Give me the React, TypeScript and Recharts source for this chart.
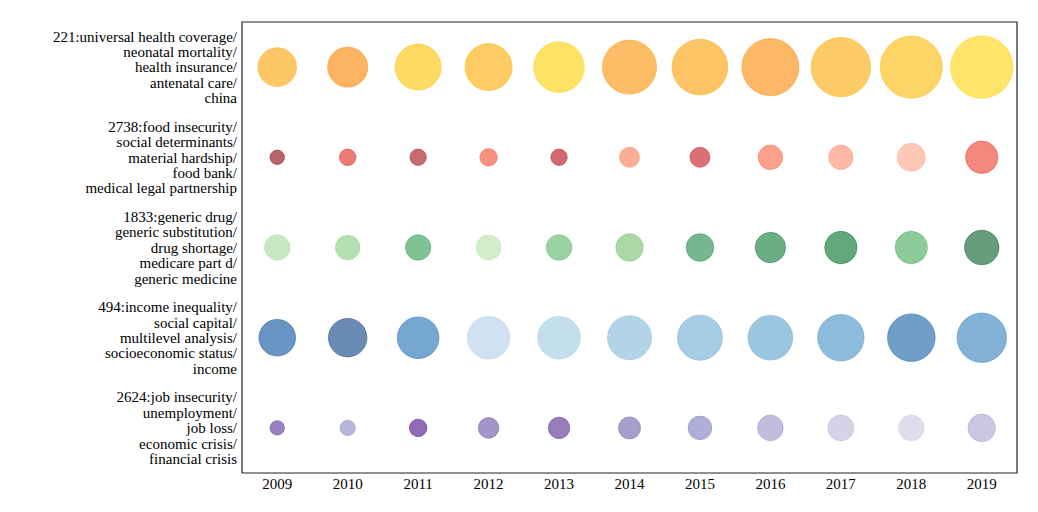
import { ScatterChart, Scatter, XAxis, YAxis, ZAxis, Cell, ReferenceArea } from 'recharts';

const years = [2009, 2010, 2011, 2012, 2013, 2014, 2015, 2016, 2017, 2018, 2019];

const topicLabels = [
  ['221:universal health coverage/', 'neonatal mortality/', 'health insurance/', 'antenatal care/', 'china'],
  ['2738:food insecurity/', 'social determinants/', 'material hardship/', 'food bank/', 'medical legal partnership'],
  ['1833:generic drug/', 'generic substitution/', 'drug shortage/', 'medicare part d/', 'generic medicine'],
  ['494:income inequality/', 'social capital/', 'multilevel analysis/', 'socioeconomic status/', 'income'],
  ['2624:job insecurity/', 'unemployment/', 'job loss/', 'economic crisis/', 'financial crisis'],
];

// bubble sizes (area units) per topic, one per year
const sizes221 = [372, 400, 529, 552, 640, 729, 773, 812, 882, 961, 973];
const sizes2738 = [52, 69, 67, 76, 67, 100, 100, 149, 149, 196, 262];
const sizes1833 = [161, 149, 161, 156, 164, 188, 190, 231, 262, 262, 296];
const sizes494 = [335, 369, 433, 454, 454, 484, 506, 497, 538, 566, 610];
const sizes2624 = [52, 59, 77, 106, 114, 121, 139, 164, 169, 164, 190];

const colors221 = ['#FDC765', '#FDB462', '#FEDA64', '#FDCD63', '#FEE265', '#FDBD66', '#FDC466', '#FDB865', '#FDCB66', '#FDD466', '#FEE56A'];
const colors2738 = ['#B5646A', '#EC7A75', '#C66B70', '#F9917F', '#D06A70', '#FCAD95', '#DB6F77', '#FBA08C', '#FDB9A5', '#FDC8B5', '#F4887F'];
const colors1833 = ['#C7E8C3', '#B5E0B2', '#80C393', '#D2ECCC', '#9BD3A0', '#AAD9A6', '#77B68E', '#6CAE84', '#62A87C', '#8ECB9A', '#669B7C'];
const colors494 = ['#6895C3', '#6A8BB3', '#76A7D1', '#D0E2F1', '#C3DFEC', '#B3D4E8', '#A6CCE4', '#9AC6E0', '#8DBCDD', '#6F9FC9', '#84B2D7'];
const colors2624 = ['#9A82C0', '#B8B5DB', '#8F6CB3', '#A495C8', '#977EBA', '#A89ECB', '#AFAED6', '#C1BDDD', '#D4D3E8', '#DEDDEC', '#CAC7E2'];

const allSizes = [sizes221, sizes2738, sizes1833, sizes494, sizes2624];
const allColors = [colors221, colors2738, colors1833, colors494, colors2624];

const FONT = '"Liberation Serif", "Times New Roman", serif';

// edge is the un-faded colour behind the 0.7 alpha face
const edge = (hex: string) => {
  const n = parseInt(hex.slice(1), 16);
  const ch = [(n >> 16) & 255, (n >> 8) & 255, n & 255].map((c) =>
    Math.max(0, Math.round(255 - (255 - c) / 0.7))
  );
  return '#' + ch.map((c) => c.toString(16).padStart(2, '0')).join('');
};

const rows = allSizes.map((s, i) => years.map((year, j) => ({ year, row: i, z: s[j] })));

const TopicTick = ({ x, y, payload }: any) => {
  const lines = topicLabels[payload.value] || [];
  const lh = 15.4;
  return (
    <text x={x} y={y} textAnchor="end" fontFamily={FONT} fontSize={15} fill="#000">
      {lines.map((l, k) => (
        <tspan key={k} x={x} dy={k === 0 ? -((lines.length - 1) / 2) * lh + 5.2 : lh}>
          {l}
        </tspan>
      ))}
    </text>
  );
};

export default function App() {
  return (
    <div style={{ width: 1030, height: 500 }}>
      <ScatterChart width={1030} height={500} margin={{ top: 14, right: 21, bottom: 5, left: 0 }}>
        <XAxis
          type="number"
          dataKey="year"
          domain={[2008.5, 2019.5]}
          ticks={years}
          axisLine={false}
          tickLine={false}
          tickSize={0}
          tickMargin={5}
          height={30}
          tick={{ fontFamily: FONT, fontSize: 15, fill: '#000' }}
          allowDataOverflow
        />
        <YAxis
          type="number"
          dataKey="row"
          domain={[-0.5, 4.5]}
          ticks={[0, 1, 2, 3, 4]}
          reversed
          width={234}
          axisLine={false}
          tickLine={false}
          tickSize={0}
          tickMargin={5}
          tick={<TopicTick />}
          allowDataOverflow
        />
        <ZAxis type="number" dataKey="z" domain={[0, 1000]} range={[0, 1000 * Math.PI]} />
        <ReferenceArea x1={2008.5} x2={2019.5} y1={-0.5} y2={4.5} fill="none" stroke="#222" strokeWidth={1.2} />
        {rows.map((d, i) => (
          <Scatter key={i} data={d} isAnimationActive={false}>
            {d.map((_, j) => (
              <Cell key={j} fill={allColors[i][j]} stroke={edge(allColors[i][j])} strokeOpacity={0.6} strokeWidth={1} />
            ))}
          </Scatter>
        ))}
      </ScatterChart>
    </div>
  );
}
